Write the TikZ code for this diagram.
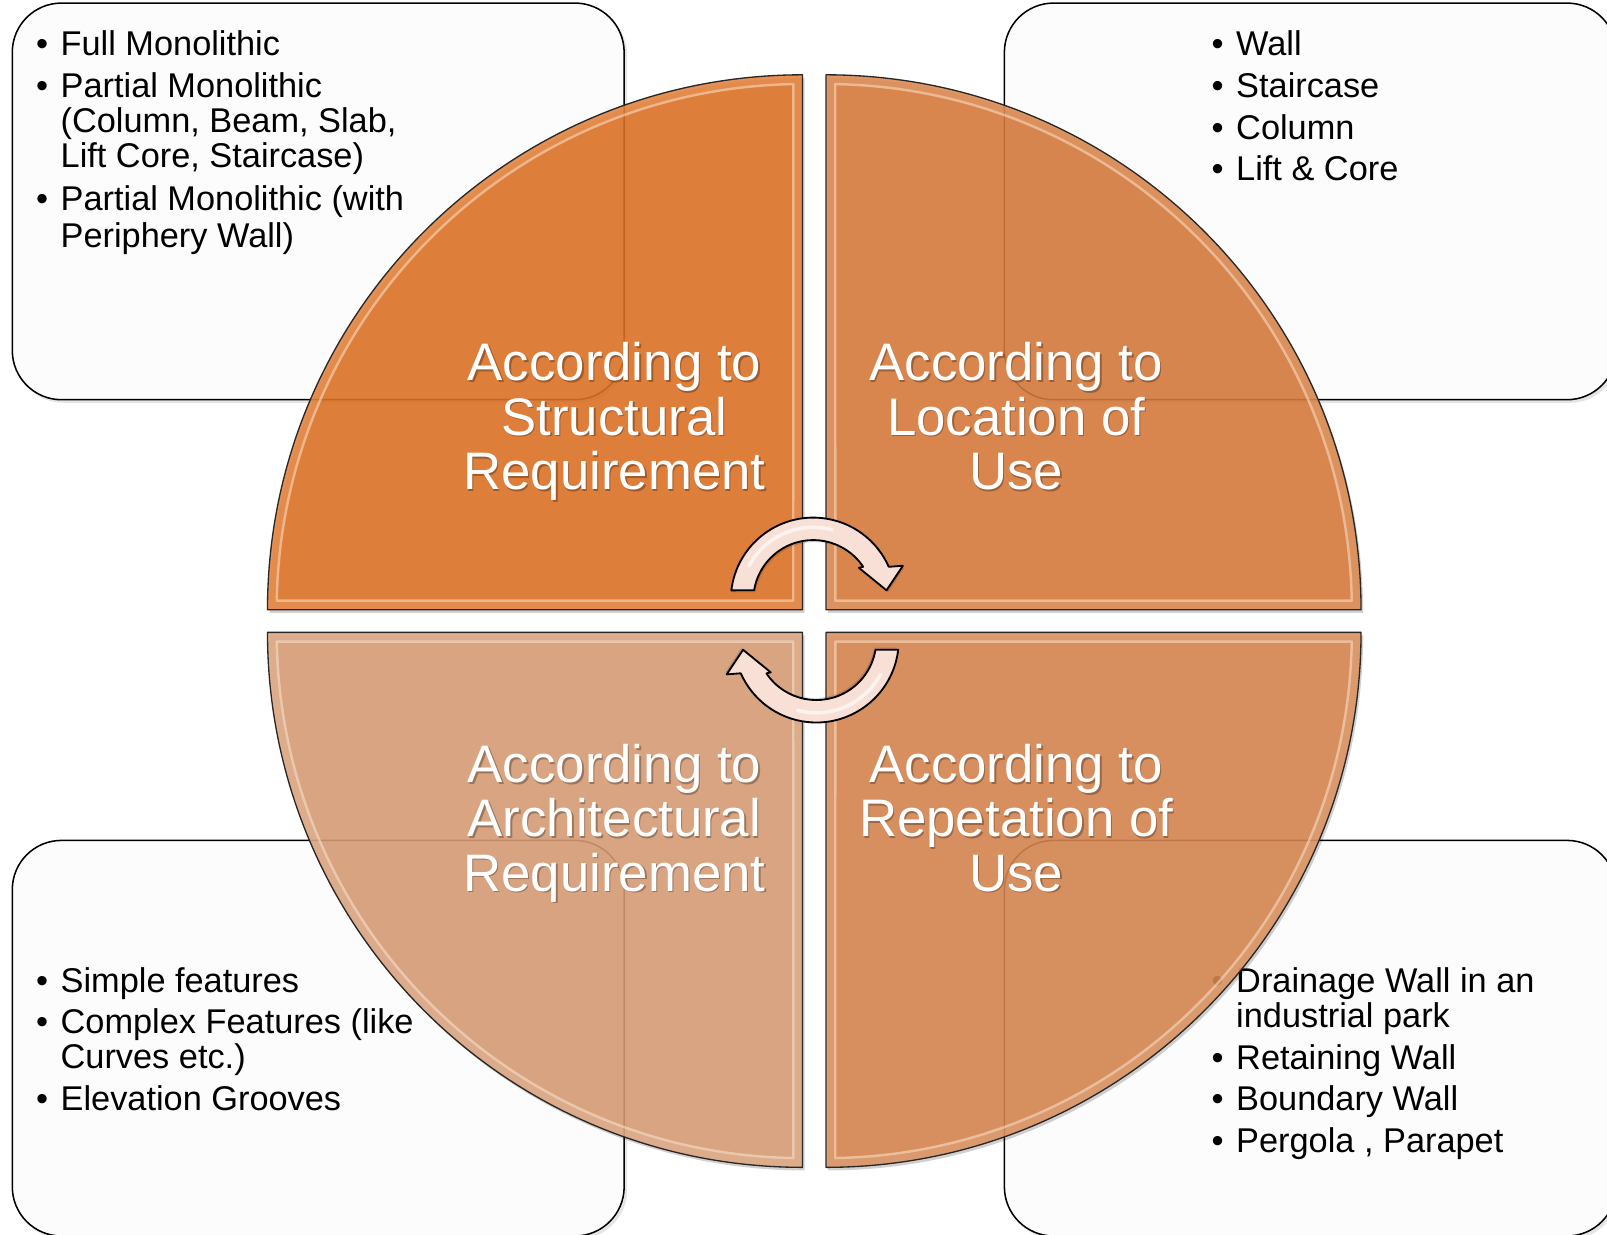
\documentclass[tikz,border=0pt]{standalone}
\usepackage{fontspec}
\setmainfont{Liberation Sans}
\definecolor{boxfill}{RGB}{252,252,252}
\definecolor{qTL}{RGB}{224,115,39}
\definecolor{qTR}{RGB}{217,124,61}
\definecolor{qBL}{RGB}{218,158,119}
\definecolor{qBR}{RGB}{216,135,80}
\definecolor{qline}{RGB}{40,40,40}
\definecolor{glow}{RGB}{255,236,215}
\definecolor{arrowfill}{RGB}{248,224,214}

\tikzset{
  box/.style={draw=black, line width=1.5pt, fill=boxfill, rounded corners=48pt},
  boxshadow/.style={fill=black, opacity=0.10, rounded corners=48pt},
  itemtxt/.style={anchor=base west, inner sep=0pt, font=\fontsize{33.5}{34}\selectfont},
  bul/.style={anchor=base, inner sep=0pt, font=\fontsize{33.5}{34}\selectfont},
  lbl/.style={anchor=base, inner sep=0pt, text=white, font=\fontsize{51.5}{53}\selectfont},
  lblsh/.style={anchor=base, inner sep=0pt, text=black, text opacity=0.28, font=\fontsize{51.5}{53}\selectfont},
  qedge/.style={draw=qline, line width=1.3pt, line join=round},
  arrowband/.style={fill=arrowfill, draw=black, line width=1.8pt, line join=round},
}

% quadrant: #1 corner coordinate, #2 start angle, #3 colour
\newcommand\qdrnt[3]{%
  \pgfmathsetmacro\qa{#2}%
  \pgfmathsetmacro\qb{#2-90}%
  \pgfmathsetmacro\qc{#2-1}%
  \pgfmathsetmacro\qd{#2-89}%
  \pgfmathsetmacro\qe{#2-45}%
  \fill[black,opacity=0.18] ([shift={(2pt,-3pt)}]#1) -- ++(\qa:522pt) arc[start angle=\qa,end angle=\qb,radius=522pt] -- cycle;
  \fill[#3,fill opacity=0.88] (#1) -- ++(\qa:522pt) arc[start angle=\qa,end angle=\qb,radius=522pt] -- cycle;
  \begin{scope}
    \clip (#1) -- ++(\qa:522pt) arc[start angle=\qa,end angle=\qb,radius=522pt] -- cycle;
    \draw[glow,opacity=0.12,line width=20pt] (#1) -- ++(\qa:522pt) arc[start angle=\qa,end angle=\qb,radius=522pt] -- cycle;
    \draw[glow,opacity=0.45,line width=2.4pt,line join=round] ([shift={(\qc:513pt)}]#1) arc[start angle=\qc,end angle=\qd,radius=513pt] -- ([shift={(\qe:12.73pt)}]#1) -- cycle;
  \end{scope}
  \draw[qedge] (#1) -- ++(\qa:522pt) arc[start angle=\qa,end angle=\qb,radius=522pt] -- cycle;
}

% one bullet line: #1 name, #2 x of text, #3 baseline y, #4 text
\newcommand\itm[4]{%
  \node[bul] (#1b) at (#2-18,#3) {•};
  \node[itemtxt] (#1) at (#2,#3) {#4};
}
% continuation line
\newcommand\cnt[4]{\node[itemtxt] (#1) at (#2,#3) {#4};}
% label line with soft shadow
\newcommand\lab[4]{%
  \node[lblsh,xshift=1.3pt,yshift=-1.8pt] (#1s) at (#2,#3) {#4};
  \node[lbl] (#1) at (#2,#3) {#4};
}
% circular arrow (top one, bottom one is rotated)
\newcommand\cyclearrow{%
  \coordinate (ac) at (793.5,585.5);
  \fill[black,opacity=0.12] ([shift={(1.5pt,-2pt)}]713.6,576) arc[start angle=173.2,end angle=23.8,radius=80.5pt] -- ++(13.8pt,1pt) -- ++(-16pt,-24pt) -- ++(-27pt,22pt) -- ++(4.2pt,1pt) arc[start angle=33.7,end angle=170.65,radius=58.5pt] -- cycle;
  \filldraw[arrowband] (713.6,576) arc[start angle=173.2,end angle=23.8,radius=80.5pt] -- (881,552) -- (865,576) -- (838,554) -- (842.2,553) arc[start angle=33.7,end angle=170.65,radius=58.5pt] -- cycle;
  \draw[white,opacity=0.6,line width=3.5pt,line cap=round] ([shift={(152:71pt)}]ac) arc[start angle=152,end angle=75,radius=71pt];
}

\begin{document}
\begin{tikzpicture}[x=1pt,y=-1pt]
\useasboundingbox (0,0) rectangle (1568,1205);
\clip (0,0) rectangle (1568,1205);
\fill[white] (0,0) rectangle (1568,1205);

% boxes
\fill[boxshadow] (14,6) rectangle (612,393);
\fill[boxshadow] (982,6) rectangle (1580,393);
\fill[boxshadow] (14,823) rectangle (612,1209);
\fill[boxshadow] (982,823) rectangle (1580,1209);
\draw[box] (12,3) rectangle (609,390);
\draw[box] (980,3) rectangle (1577,390);
\draw[box] (12,820) rectangle (609,1206);
\draw[box] (980,820) rectangle (1577,1206);

% top-left list
\itm{a1}{59}{54.5}{Full Monolithic}
\itm{a2}{59}{95.2}{Partial Monolithic}
\cnt{a3}{59}{129.4}{(Column, Beam, Slab,}
\cnt{a4}{59}{163.6}{Lift Core, Staircase)}
\itm{a5}{59}{205.7}{Partial Monolithic (with}
\cnt{a6}{59}{241}{Periphery Wall)}

% top-right list
\itm{b1}{1206}{54.5}{Wall}
\itm{b2}{1206}{95.2}{Staircase}
\itm{b3}{1206}{135.8}{Column}
\itm{b4}{1206}{176.4}{Lift \& Core}

% bottom-left list
\itm{c1}{59}{968.4}{Simple features}
\itm{c2}{59}{1008.4}{Complex Features (like}
\cnt{c3}{59}{1043}{Curves etc.)}
\itm{c4}{59}{1083.8}{Elevation Grooves}

% bottom-right list
\itm{d1}{1206}{968.4}{Drainage Wall in an}
\cnt{d2}{1206}{1002.6}{industrial park}
\itm{d3}{1206}{1043.2}{Retaining Wall}
\itm{d4}{1206}{1083.8}{Boundary Wall}
\itm{d5}{1206}{1124.4}{Pergola , Parapet}

% quadrants
\coordinate (cTL) at (783,595);
\coordinate (cTR) at (806,595);
\coordinate (cBL) at (783,617);
\coordinate (cBR) at (806,617);
\qdrnt{cTL}{180}{qTL}
\qdrnt{cTR}{90}{qTR}
\qdrnt{cBR}{0}{qBR}
\qdrnt{cBL}{-90}{qBL}

% labels
\lab{l1}{599.5}{371.5}{According to}
\lab{l2}{599.5}{424.5}{Structural}
\lab{l3}{599.5}{477.5}{Requirement}
\lab{l4}{991.5}{371.5}{According to}
\lab{l5}{991.5}{424.5}{Location of}
\lab{l6}{991.5}{477.5}{Use}
\lab{l7}{599.5}{763.5}{According to}
\lab{l8}{599.5}{816.5}{Architectural}
\lab{l9}{599.5}{869.5}{Requirement}
\lab{l10}{991.5}{763.5}{According to}
\lab{l11}{991.5}{816.5}{Repetation of}
\lab{l12}{991.5}{869.5}{Use}

% cycle arrows
\begin{scope}
  \cyclearrow
\end{scope}
\begin{scope}[rotate around={180:(795,605)}]
  \cyclearrow
\end{scope}
\end{tikzpicture}
\end{document}
